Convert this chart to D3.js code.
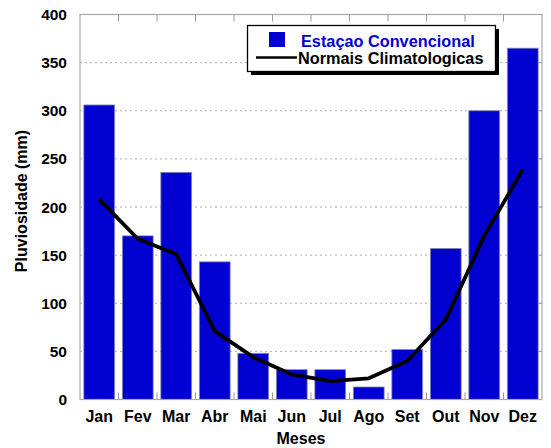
<!DOCTYPE html>
<html>
<head>
<meta charset="utf-8">
<script src="https://cdn.jsdelivr.net/npm/d3@7"></script>
<style>
body{margin:0;background:#fff;}
text{font-family:"Liberation Sans",Arial,sans-serif;font-weight:bold;}
</style>
</head>
<body>
<svg id="viz" width="551" height="448"></svg>
<script>
// valores
const meses = ["Jan","Fev","Mar","Abr","Mai","Jun","Jul","Ago","Set","Out","Nov","Dez"];
const estacao = [306,170,236,143,48,31,31,13,52,157,300,365];
const normais = [208,167,151,71,44,26,19,22,40,83,170,239];
const yTicks = [0,50,100,150,200,250,300,350,400];

const svg = d3.select("#viz");
const pLeft = 80, pRight = 542, pTop = 14.5, pBottom = 399.5;

const x = d3.scaleBand().domain(meses).range([pLeft,pRight]).paddingInner(0.2).paddingOuter(0.1);
const y = d3.scaleLinear().domain([0,400]).range([pBottom,pTop]);
const step = x.step();

// grade
svg.append("g").selectAll("line").data(yTicks.filter(d=>d>0 && d<400)).join("line")
    .attr("x1",pLeft).attr("x2",pRight)
    .attr("y1",d=>y(d)).attr("y2",d=>y(d))
    .attr("stroke","#b0b0b0").attr("stroke-width",1).attr("stroke-dasharray","2,3");

// ticks de cima e de baixo nos limites das categorias
const bounds = d3.range(1,meses.length).map(i=>pLeft+i*step);
svg.append("g").selectAll("line").data(bounds).join("line")
    .attr("x1",d=>d).attr("x2",d=>d).attr("y1",pTop).attr("y2",pTop+7)
    .attr("stroke","#999");
svg.append("g").selectAll("line").data(bounds).join("line")
    .attr("x1",d=>d).attr("x2",d=>d).attr("y1",pBottom).attr("y2",pBottom-7)
    .attr("stroke","#999");
// ticks da direita
svg.append("g").selectAll("line").data(yTicks).join("line")
    .attr("x1",pRight).attr("x2",pRight-6).attr("y1",d=>y(d)).attr("y2",d=>y(d))
    .attr("stroke","#999");

// barras
svg.append("g").selectAll("rect").data(estacao).join("rect")
    .attr("x",(d,i)=>x(meses[i]))
    .attr("y",d=>y(d))
    .attr("width",x.bandwidth())
    .attr("height",d=>y(0)-y(d))
    .attr("fill","#0000d0")
    .attr("stroke","#8888b0").attr("stroke-width",0.8);

// moldura
svg.append("rect").attr("x",pLeft).attr("y",pTop).attr("width",pRight-pLeft).attr("height",pBottom-pTop)
    .attr("fill","none").attr("stroke","#aaa").attr("stroke-width",1.2);

// linha normais
const line = d3.line().x((d,i)=>x(meses[i])+x.bandwidth()/2).y(d=>y(d));
svg.append("path").datum(normais).attr("d",line)
    .attr("fill","none").attr("stroke","#000").attr("stroke-width",3.8).attr("stroke-linejoin","round");

// eixo y
svg.append("g").selectAll("text").data(yTicks).join("text")
    .attr("x",67).attr("y",d=>y(d)+5.5)
    .attr("text-anchor","end").attr("font-size",15.5).text(d=>d);

// eixo x
svg.append("g").selectAll("text").data(meses).join("text")
    .attr("x",d=>x(d)+x.bandwidth()/2).attr("y",422)
    .attr("text-anchor","middle").attr("font-size",16).text(d=>d);

svg.append("text").attr("x",301).attr("y",444).attr("text-anchor","middle")
    .attr("font-size",16).text("Meses");
svg.append("text").attr("transform","translate(27,201) rotate(-90)").attr("text-anchor","middle")
    .attr("font-size",16).text("Pluviosidade (mm)");

// legenda
const lg = svg.append("g");
lg.append("rect").attr("x",251).attr("y",29).attr("width",248).attr("height",46).attr("fill","#000");
lg.append("rect").attr("x",247.5).attr("y",25.5).attr("width",248).attr("height",46)
    .attr("fill","#fff").attr("stroke","#000").attr("stroke-width",1.3);
lg.append("rect").attr("x",269).attr("y",32).attr("width",16).attr("height",15).attr("fill","#0000d0");
lg.append("text").attr("x",301).attr("y",47).attr("font-size",16.3).attr("fill","#0000d0").text("Estaçao Convencional");
lg.append("line").attr("x1",256).attr("x2",297).attr("y1",57.5).attr("y2",57.5).attr("stroke","#000").attr("stroke-width",2.5);
lg.append("text").attr("x",298).attr("y",63.5).attr("font-size",16.3).attr("fill","#000").text("Normais Climatologicas");
</script>
</body>
</html>
